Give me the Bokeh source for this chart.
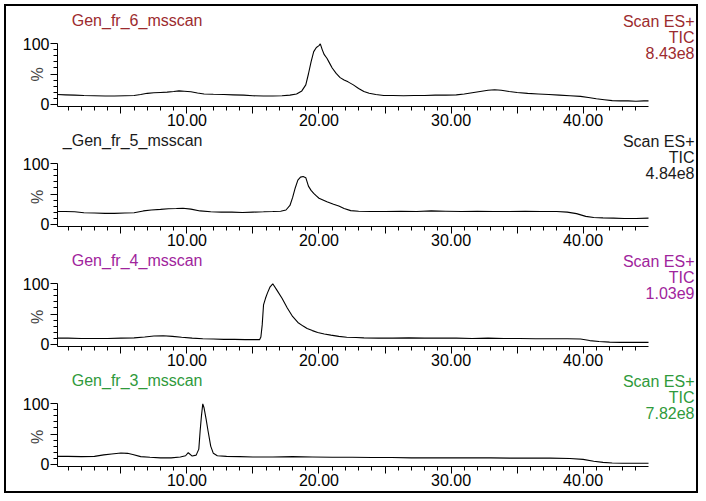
from bokeh.plotting import figure
from bokeh.models import FixedTicker, Label, Range1d
from bokeh.layouts import column
from bokeh.embed import file_html
from bokeh.resources import INLINE

FONT = "Liberation Sans"

# ---- data (retention time in min, relative intensity %) ----
titles = ["Gen_fr_6_msscan", "_Gen_fr_5_msscan", "Gen_fr_4_msscan", "Gen_fr_3_msscan"]
scan_label = "Scan ES+"
tic_label = "TIC"
tic_values = ["8.43e8", "4.84e8", "1.03e9", "7.82e8"]
text_colors = ["#9c2b2e", "#1a1a1a", "#a0249c", "#2f9a3b"]

x_major = [5, 10, 15, 20, 25, 30, 35, 40]
x_minor = [t for t in range(1, 45)]
y_major = [0, 50, 100]
y_minor = [10, 20, 30, 40, 60, 70, 80, 90]

fr6_x = [0.2, 0.8, 1.5, 2.2, 3.0, 3.8, 4.5, 5.3, 6.0, 6.5,
         7.0, 7.5, 8.0, 8.5, 9.0, 9.4, 9.8, 10.3, 10.8, 11.3,
         12.0, 12.8, 13.5, 14.3, 15.0, 15.8, 16.5, 17.2, 17.8, 18.3,
         18.7, 19.0, 19.2, 19.4, 19.6, 19.8, 20.0, 20.1, 20.25, 20.4,
         20.6, 20.8, 21.0, 21.3, 21.6, 21.9, 22.2, 22.6, 23.0, 23.4,
         23.8, 24.3, 24.9, 25.6, 26.4, 27.2, 28.0, 28.8, 29.6, 30.4,
         31.0, 31.6, 32.2, 32.8, 33.3, 33.8, 34.4, 35.0, 35.8, 36.6,
         37.4, 38.2, 39.0, 39.8, 40.4, 41.0, 41.6, 42.2, 42.8, 43.4,
         44.0, 44.6, 44.95]
fr6_y = [16, 15.5, 15, 14.5, 14, 13.5, 13.5, 14, 14.5, 16,
         18, 19, 19.5, 20, 21, 22, 21.5, 20.5, 18.5, 17,
         16.5, 16, 15.5, 15, 14, 13.5, 13.5, 14, 15, 17,
         22, 32, 50, 70, 87, 94, 97, 100, 90, 82,
         76, 68, 60, 51, 44, 40, 37, 32, 26, 21,
         18, 16, 14.5, 14.5, 14, 14.5, 14.5, 15, 15, 15.5,
         17, 19, 21, 23, 24, 23, 21, 19.5, 18, 17,
         16, 15, 14, 13, 11, 9, 7.5, 6, 5.5, 5.5,
         5, 5.5, 5.5]

fr5_x = [0.2, 0.8, 1.5, 2.2, 3.0, 3.8, 4.5, 5.3, 6.0, 6.7,
         7.3, 8.0, 8.6, 9.2, 9.7, 10.3, 11.0, 11.8, 12.6, 13.4,
         14.2, 15.0, 15.8, 16.5, 17.1, 17.5, 17.8, 18.0, 18.2, 18.4,
         18.6, 18.8, 19.0, 19.2, 19.4, 19.6, 19.8, 20.0, 20.3, 20.6,
         21.1, 21.5, 21.9, 22.4, 23.0, 23.9, 25.0, 26.2, 27.4, 28.5,
         29.6, 30.8, 32.0, 33.2, 34.4, 35.6, 36.8, 38.0, 38.8, 39.5,
         40.2, 40.8, 41.5, 42.3, 43.1, 44.0, 44.95]
fr5_y = [21, 21, 20.5, 19, 18.5, 18, 18, 18.5, 19, 22,
         23.5, 24.5, 25.5, 26, 26.5, 25, 22, 20.5, 20, 20,
         19.5, 20, 20.5, 21, 21.5, 23.5, 31, 44, 60, 73,
         78, 79, 77, 63, 56, 51, 47, 43, 40, 37,
         33, 30, 26, 22.5, 21.5, 21, 21, 21.5, 21, 22,
         21.5, 21, 21.5, 21, 21, 21.5, 21, 21, 20, 17.5,
         13, 11, 10.5, 10, 9.5, 9.5, 10]

fr4_x = [0.2, 1.0, 2.0, 3.0, 4.0, 5.0, 6.0, 6.8, 7.5, 8.2,
         8.9, 9.6, 10.4, 11.2, 12.0, 12.8, 13.6, 14.4, 15.0, 15.5,
         15.6, 15.7, 15.8, 15.95, 16.1, 16.3, 16.5, 16.8, 17.2, 17.6,
         18.0, 18.4, 18.8, 19.1, 19.5, 19.9, 20.4, 20.9, 21.5, 22.1,
         22.8, 23.4, 24.5, 25.6, 26.8, 28.0, 29.2, 30.4, 31.6, 32.8,
         34.0, 35.2, 36.4, 37.6, 38.8, 39.8, 40.5, 41.2, 42.0, 42.8,
         43.6, 44.4, 44.95]
fr4_y = [10, 10, 9.5, 9.5, 9.5, 10, 10.5, 12, 13.5, 14,
         13, 11.5, 10, 9, 8.5, 8, 8, 7.5, 7.5, 7.5,
         12, 32, 65, 76, 85, 95, 100, 90, 76, 60,
         46, 36, 30, 26, 22.5, 19.5, 17, 15, 13, 11.5,
         11, 10.5, 10, 10, 10.5, 10, 10, 10, 9.5, 10,
         9.5, 9.5, 9, 9, 9, 8.5, 6, 4.5, 3.5, 3,
         3, 3, 3]

fr3_x = [0.2, 1.0, 2.0, 3.0, 3.7, 4.3, 5.0, 5.5, 5.9, 6.5,
         7.2, 8.0, 8.8, 9.5, 9.9, 10.1, 10.4, 10.7, 10.9, 11.0,
         11.1, 11.2, 11.3, 11.45, 11.6, 11.8, 12.0, 12.3, 13.0, 14.0,
         15.0, 16.5, 18.0, 19.5, 21.0, 22.5, 24.0, 25.5, 27.0, 28.5,
         30.0, 31.5, 33.0, 34.5, 36.0, 37.5, 39.0, 40.0, 40.8, 41.5,
         42.2, 43.0, 44.0, 44.95]
fr3_y = [13, 13, 12.5, 13, 15.5, 17, 18.5, 18, 16, 12.5,
         11.5, 10.5, 10.5, 12, 14, 19, 13.5, 15, 25, 55,
         80, 100, 93, 75, 55, 30, 18, 14, 13, 12.5,
         12, 12, 12.5, 12, 11.5, 11.5, 11, 11, 10.5, 10.5,
         10.5, 10.5, 10.5, 10, 10, 10, 9.5, 8, 5, 3,
         2, 1.5, 1.5, 1.5]

traces = [(fr6_x, fr6_y), (fr5_x, fr5_y), (fr4_x, fr4_y), (fr3_x, fr3_y)]

# ---- layout ----
X_START, X_END = 0.2, 44.95          # drawn extent of the time axis
Y_START, Y_TOP = -3.8, 100.5         # drawn extent of the % axis
PLOT_H = 63                          # px between x axis and the 100 % level
tops = [37, 32, 32, 32]              # px above the 100 % level (title area)
BOTTOM = 25
W = 690
LEFT = 51
AXIS_W = 591                         # px of the time axis
FS = "16px"

x_scale = AXIS_W / (X_END - X_START)
y_scale = PLOT_H / (Y_TOP - Y_START)
frame_w = W - LEFT

figs = []
for i, (xs, ys) in enumerate(traces):
    frame_h = tops[i] + PLOT_H
    p = figure(width=W, height=frame_h + BOTTOM,
               x_range=Range1d(X_START, X_START + frame_w / x_scale),
               y_range=Range1d(Y_START, Y_START + frame_h / y_scale),
               output_backend="svg", toolbar_location=None,
               min_border_left=LEFT, min_border_right=0,
               min_border_top=0, min_border_bottom=BOTTOM)
    p.outline_line_color = None
    p.xgrid.visible = False
    p.ygrid.visible = False
    p.background_fill_color = "white"
    p.border_fill_color = "white"

    p.line(xs, ys, line_color="black", line_width=1.1)

    xa = p.xaxis[0]
    xa.bounds = (X_START, X_END)
    xa.ticker = FixedTicker(ticks=x_major, minor_ticks=x_minor)
    xa.major_label_overrides = {t: (f"{t:.2f}" if t % 10 == 0 else "") for t in x_major}
    xa.major_tick_out = 7
    xa.major_tick_in = 0
    xa.minor_tick_out = 4
    xa.minor_tick_in = 0
    xa.major_label_standoff = 0
    xa.major_label_text_font = FONT
    xa.major_label_text_font_size = FS
    xa.major_label_text_color = "black"
    xa.axis_line_color = "black"

    ya = p.yaxis[0]
    ya.bounds = (Y_START, 100)
    ya.ticker = FixedTicker(ticks=y_major, minor_ticks=y_minor)
    ya.major_label_overrides = {0: "0", 50: "", 100: "100"}
    ya.major_tick_out = 7
    ya.major_tick_in = 0
    ya.minor_tick_out = 4
    ya.minor_tick_in = 0
    ya.major_label_standoff = 1
    ya.major_label_text_font = FONT
    ya.major_label_text_font_size = FS
    ya.major_label_text_color = "black"
    # the label is centred on the whole frame; non-breaking spaces push the
    # visible "%" down to the middle of the 0-100 scale
    ya.axis_label = "%" + "\u00a0" * 8
    ya.axis_label_text_font = FONT
    ya.axis_label_text_font_size = FS
    ya.axis_label_text_font_style = "normal"
    ya.axis_label_standoff = -26
    ya.axis_line_color = "black"

    c = text_colors[i]
    p.add_layout(Label(x=145, y=PLOT_H + 23, x_units="screen", y_units="screen",
                       text=titles[i], text_align="right", text_baseline="middle",
                       text_font=FONT, text_font_size=FS, text_color=c))
    for txt, dy in [(scan_label, 22), (tic_label, 6.5), (tic_values[i], -9.5)]:
        p.add_layout(Label(x=637, y=PLOT_H + dy, x_units="screen", y_units="screen",
                           text=txt, text_align="right", text_baseline="middle",
                           text_font=FONT, text_font_size=FS, text_color=c))
    figs.append(p)

layout = column(*figs, spacing=0,
                styles={"border": "2px solid black", "background-color": "white"},
                margin=(4, 0, 0, 4))

open("out.html", "w").write(file_html(layout, INLINE))
